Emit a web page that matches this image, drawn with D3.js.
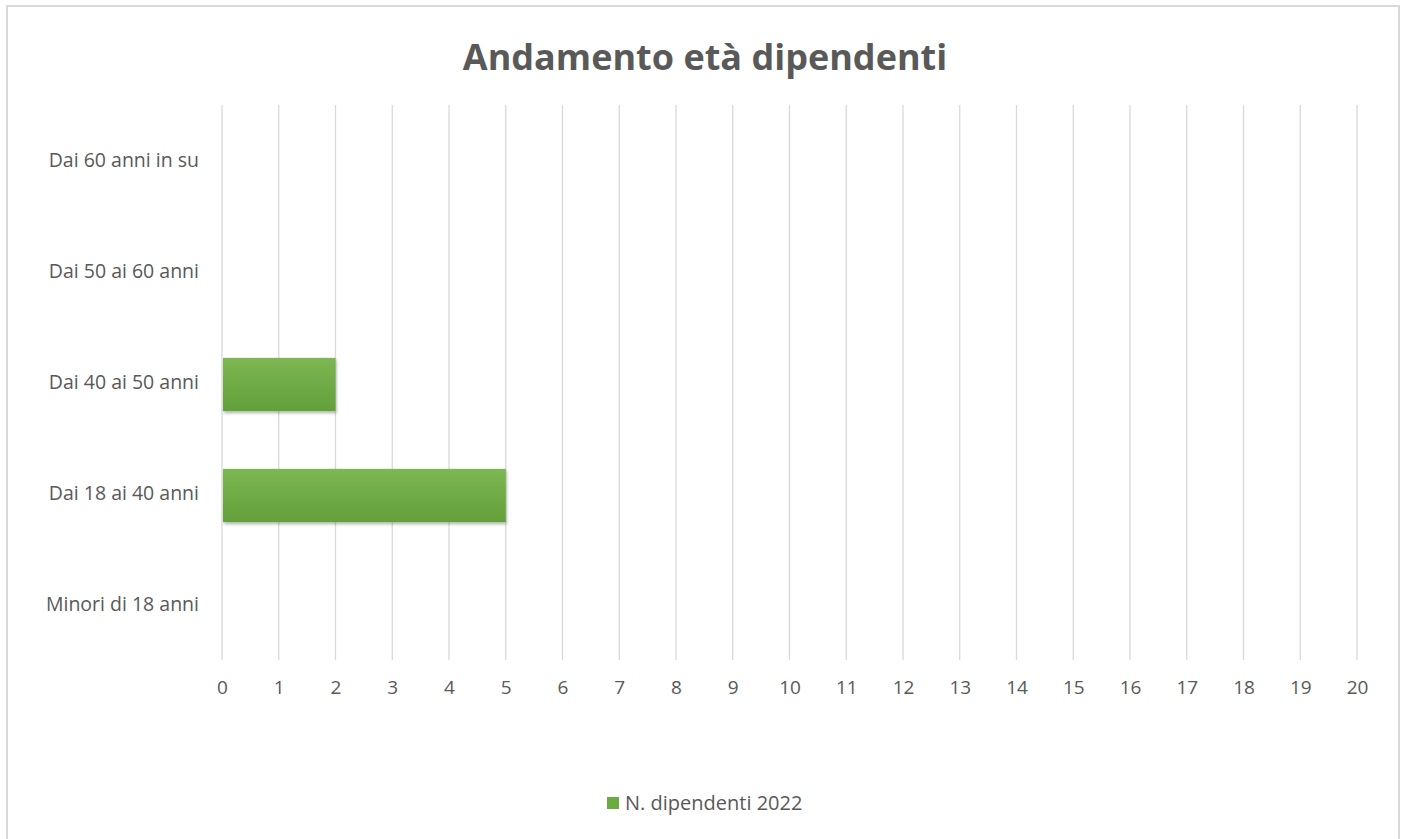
<!DOCTYPE html>
<html>
<head>
<meta charset="utf-8">
<script src="https://cdn.jsdelivr.net/npm/d3@7"></script>
<style>
  body { margin: 0; background: #fff; }
  text { font-family: "Open Sans", "Liberation Sans", sans-serif; }
</style>
</head>
<body>
<svg id="chart"></svg>
<script>
// data
var categories = ["Minori di 18 anni", "Dai 18 ai 40 anni", "Dai 40 ai 50 anni", "Dai 50 ai 60 anni", "Dai 60 anni in su"];
var values = [0, 5, 2, 0, 0];
var xTicks = d3.range(0, 21);
var seriesName = "N. dipendenti 2022";
var chartTitle = "Andamento età dipendenti";

var widthSVG = 1407;
var heightSVG = 839;
var margins = { top: 105, right: 50, bottom: 179, left: 222 };
var width = widthSVG - margins.left - margins.right;
var height = heightSVG - margins.top - margins.bottom;

var svg = d3.select("#chart")
  .attr("width", widthSVG)
  .attr("height", heightSVG);

// gradient + shadow for bars
var defs = svg.append("defs");
var grad = defs.append("linearGradient")
  .attr("id", "barGrad")
  .attr("x1", 0).attr("y1", 0).attr("x2", 0).attr("y2", 1);
grad.append("stop").attr("offset", "0%").attr("stop-color", "#7cb752");
grad.append("stop").attr("offset", "100%").attr("stop-color", "#62a03a");
var shadow = defs.append("filter").attr("id", "shadow")
  .attr("x", "-10%").attr("y", "-20%").attr("width", "130%").attr("height", "150%");
shadow.append("feDropShadow")
  .attr("dx", 1).attr("dy", 2).attr("stdDeviation", 1.5)
  .attr("flood-color", "#000").attr("flood-opacity", 0.3);

// outer frame
svg.append("rect")
  .attr("x", 7).attr("y", 6)
  .attr("width", 1392).attr("height", 845)
  .attr("fill", "#fff")
  .attr("stroke", "#d9d9d9")
  .attr("stroke-width", 2);

var groupChart = svg.append("g")
  .attr("transform", `translate(${margins.left}, ${margins.top})`);

var xScale = d3.scaleLinear()
  .domain([0, 20])
  .range([0, width]);

var yScale = d3.scaleBand()
  .domain(categories.slice().reverse())
  .range([0, height])
  .paddingInner(0.52)
  .paddingOuter(0.26);

// vertical gridlines
groupChart.append("g")
  .selectAll("line")
  .data(xTicks)
  .enter()
  .append("line")
  .attr("x1", d => xScale(d))
  .attr("x2", d => xScale(d))
  .attr("y1", 0)
  .attr("y2", height)
  .attr("stroke", "#d9d9d9")
  .attr("stroke-width", 1.3);

// x tick labels
var xAxis = groupChart.append("g")
  .attr("transform", `translate(0, ${height})`)
  .call(d3.axisBottom(xScale).tickValues(xTicks).tickSize(0).tickPadding(21));
xAxis.select(".domain").remove();
xAxis.selectAll("text")
  .attr("fill", "#595959")
  .style("font-size", "19px")
  .style("font-family", "'Open Sans', sans-serif");

// y category labels
var yAxis = groupChart.append("g")
  .call(d3.axisLeft(yScale).tickSize(0).tickPadding(23));
yAxis.select(".domain").remove();
yAxis.selectAll("text")
  .attr("fill", "#595959")
  .style("font-size", "19.5px")
  .style("font-family", "'Open Sans', sans-serif");

// bars
groupChart.append("g")
  .selectAll("rect")
  .data(categories.map((c, i) => ({ cat: c, val: values[i] })))
  .enter()
  .append("rect")
  .attr("x", xScale(0) + 1)
  .attr("y", d => yScale(d.cat) + 2)
  .attr("width", d => Math.max(0, xScale(d.val) - xScale(0) - 1))
  .attr("height", yScale.bandwidth())
  .attr("fill", "url(#barGrad)")
  .attr("filter", "url(#shadow)");

// title
svg.append("text")
  .attr("x", 705)
  .attr("y", 70)
  .attr("text-anchor", "middle")
  .attr("fill", "#595959")
  .style("font-size", "36px")
  .style("font-weight", "bold")
  .text(chartTitle);

// legend
var legend = svg.append("g")
  .attr("transform", "translate(607, 803)");
legend.append("rect")
  .attr("x", 0).attr("y", -6)
  .attr("width", 12).attr("height", 12)
  .attr("fill", "#6aac42");
legend.append("text")
  .attr("x", 18)
  .attr("y", 7)
  .attr("fill", "#595959")
  .style("font-size", "20px")
  .text(seriesName);
</script>
</body>
</html>
